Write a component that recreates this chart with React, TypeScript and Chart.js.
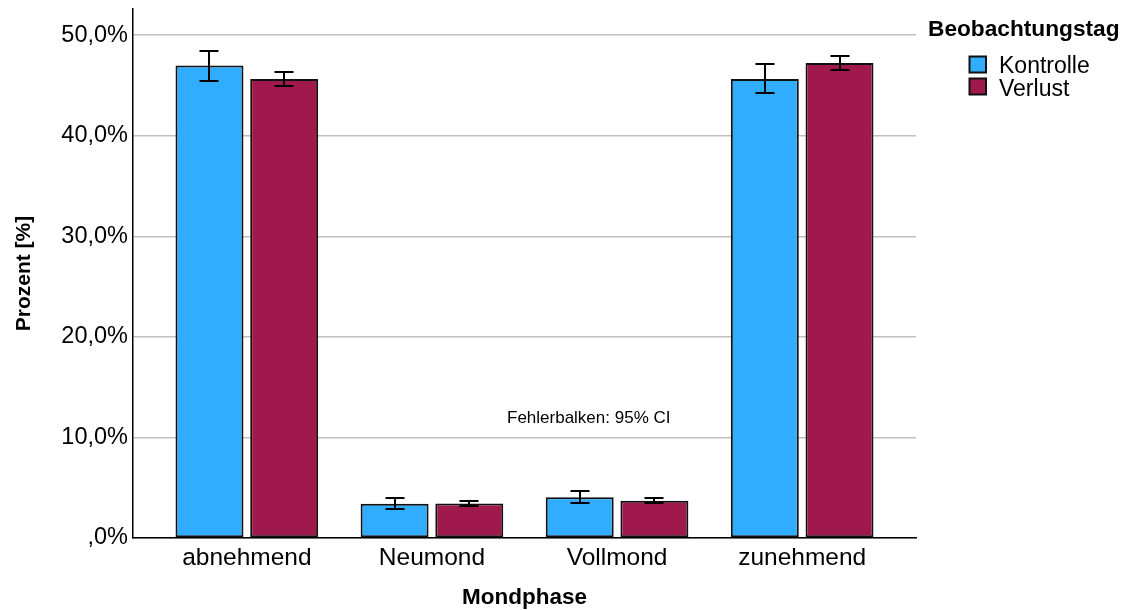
import React, { useEffect, useRef } from "react";
import { Chart, registerables } from "chart.js";

Chart.register(...registerables);

const categories = ["abnehmend", "Neumond", "Vollmond", "zunehmend"];
const seriesNames = ["Kontrolle", "Verlust"];
const kontrolle = [46.97, 3.4, 4.04, 45.65];
const kontrolleLow = [45.45, 2.92, 3.44, 44.2];
const kontrolleHigh = [48.45, 3.98, 4.66, 47.15];
const verlust = [45.63, 3.44, 3.7, 47.22];
const verlustLow = [44.95, 3.18, 3.46, 46.55];
const verlustHigh = [46.35, 3.72, 3.95, 47.9];
const yTicks = [0, 10, 20, 30, 40, 50];
const seriesColors = ["#31adff", "#a0194d"];
const xTitle = "Mondphase";
const yTitle = "Prozent [%]";
const legendTitle = "Beobachtungstag";
const noteText = "Fehlerbalken: 95% CI";

const lows = [kontrolleLow, verlustLow];
const highs = [kontrolleHigh, verlustHigh];

const FONT = "'Liberation Sans', Arial, sans-serif";

const errorBarPlugin = {
  id: "errorBars",
  afterDatasetsDraw(chart: any) {
    const ctx = chart.ctx;
    const yScale = chart.scales.y;
    ctx.save();
    ctx.strokeStyle = "#000";
    ctx.lineWidth = 2;
    chart.data.datasets.forEach((_: any, di: number) => {
      const meta = chart.getDatasetMeta(di);
      meta.data.forEach((bar: any, j: number) => {
        const x = Math.round(bar.x);
        const yh = Math.round(yScale.getPixelForValue(highs[di][j]));
        const yl = Math.round(yScale.getPixelForValue(lows[di][j]));
        const cap = 9.5;
        ctx.beginPath();
        ctx.moveTo(x, yh);
        ctx.lineTo(x, yl);
        ctx.moveTo(x - cap, yh);
        ctx.lineTo(x + cap, yh);
        ctx.moveTo(x - cap, yl);
        ctx.lineTo(x + cap, yl);
        ctx.stroke();
      });
    });
    ctx.restore();
  },
};

const annotationPlugin = {
  id: "customLegendNote",
  afterDraw(chart: any) {
    const ctx = chart.ctx;
    ctx.save();
    ctx.textBaseline = "alphabetic";
    ctx.textAlign = "left";
    ctx.fillStyle = "#000";
    ctx.font = `17px ${FONT}`;
    ctx.fillText(noteText, 499, 415);
    ctx.font = `bold 22.7px ${FONT}`;
    ctx.fillText(legendTitle, 920, 28);
    const boxX = 961.5;
    const boxTops = [48.5, 70.5];
    const textBase = [65, 88];
    seriesNames.forEach((name, i) => {
      ctx.fillStyle = seriesColors[i];
      ctx.fillRect(boxX, boxTops[i], 16.5, 16);
      ctx.strokeStyle = "#111";
      ctx.lineWidth = 2;
      ctx.strokeRect(boxX, boxTops[i], 16.5, 16);
      ctx.fillStyle = "#000";
      ctx.font = `23px ${FONT}`;
      ctx.fillText(name, 991, textBase[i]);
    });
    ctx.restore();
  },
};

export default function App() {
  const ref = useRef<HTMLCanvasElement | null>(null);
  useEffect(() => {
    if (!ref.current) return;
    const series = [kontrolle, verlust];
    const chart = new Chart(ref.current, {
      type: "bar",
      data: {
        datasets: series.map((vals, i) => ({
          label: seriesNames[i],
          data: vals.map((v, j) => ({ x: j, y: v })),
          backgroundColor: seriesColors[i],
          borderColor: "#111",
          borderWidth: 2,
          borderSkipped: false,
          categoryPercentage: 0.807,
          barPercentage: 0.91,
        })),
      },
      options: {
        responsive: false,
        animation: false,
        layout: { padding: { top: 1, right: 206, left: 0, bottom: 0 } },
        plugins: { legend: { display: false }, tooltip: { enabled: false } },
        scales: {
          x: {
            type: "linear",
            min: -0.615,
            max: 3.615,
            offset: false,
            grid: { display: false, drawTicks: false },
            border: { display: true, color: "#000", width: 1.5 },
            afterBuildTicks: (scale: any) => {
              scale.ticks = categories.map((_, i) => ({ value: i }));
            },
            afterFit: (scale: any) => {
              scale.height = 72;
              scale.paddingLeft = 0;
              scale.paddingRight = 0;
            },
            ticks: {
              autoSkip: false,
              maxRotation: 0,
              padding: 6,
              color: "#000",
              font: { family: FONT, size: 24.5 },
              callback: (v: any) => categories[v as number] ?? "",
            },
            title: {
              display: true,
              text: xTitle,
              color: "#000",
              font: { family: FONT, size: 22.5, weight: "bold", lineHeight: 1 },
              padding: { top: 0, bottom: 1 },
            },
          },
          y: {
            min: 0,
            max: 52.6,
            grid: { color: "#bfbfbf", lineWidth: 1.5, drawTicks: false },
            border: { display: true, color: "#000", width: 1.5 },
            afterBuildTicks: (scale: any) => {
              scale.ticks = yTicks.map((v) => ({ value: v }));
            },
            afterFit: (scale: any) => {
              scale.width = 125;
              scale.paddingTop = 0;
              scale.paddingBottom = 0;
            },
            ticks: {
              padding: 5,
              color: "#000",
              font: { family: FONT, size: 23.5 },
              callback: (v: any) =>
                v === 0 ? ",0%" : (v as number).toFixed(1).replace(".", ",") + "%",
            },
            title: {
              display: true,
              text: yTitle,
              color: "#000",
              font: { family: FONT, size: 21, weight: "bold", lineHeight: 1.2 },
              padding: { top: 4, bottom: 0 },
            },
          },
        },
      },
      plugins: [errorBarPlugin, annotationPlugin],
    });
    return () => chart.destroy();
  }, []);
  return (
    <div style={{ width: 1114, height: 602 }}>
      <canvas ref={ref} width={1114} height={602} style={{ display: "block" }} />
    </div>
  );
}
